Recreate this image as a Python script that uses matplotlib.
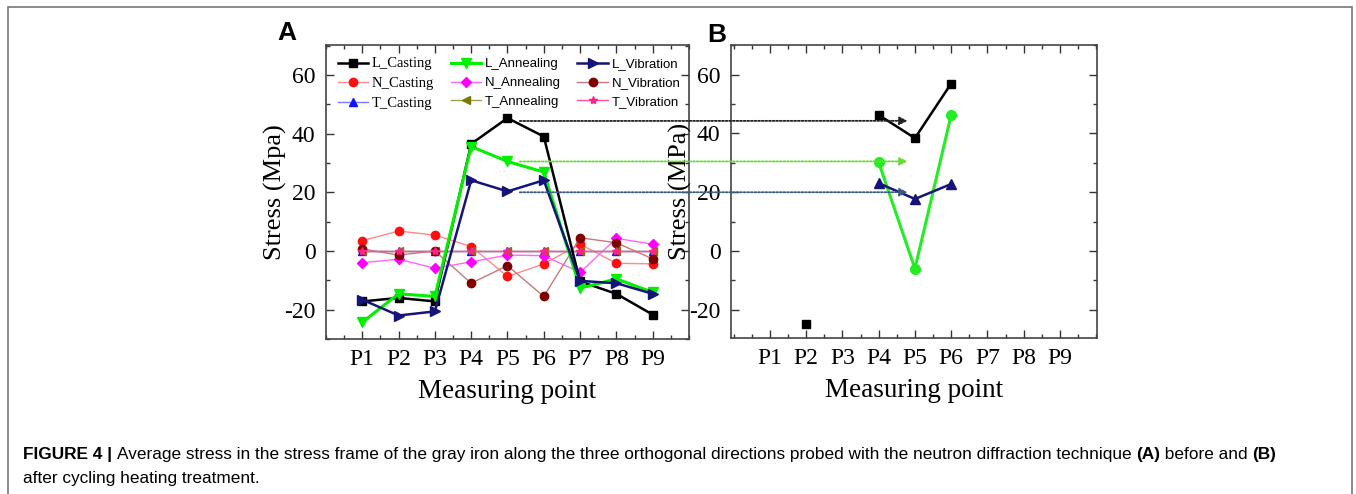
import numpy as np
import matplotlib
matplotlib.use("Agg")
import matplotlib.pyplot as plt
from matplotlib.patches import Rectangle, ConnectionPatch
from matplotlib.ticker import MultipleLocator

plt.rcParams["axes.unicode_minus"] = False

points = ["P1", "P2", "P3", "P4", "P5", "P6", "P7", "P8", "P9"]
x = np.arange(1, 10)

# panel A: before treatment
l_casting = [-17.2, -16.0, -17.2, 36.5, 45.3, 39.0, -10.4, -14.6, -21.7]
l_annealing = [-24.3, -14.6, -15.5, 35.6, 30.5, 26.9, -12.7, -9.5, -14.1]
l_vibration = [-16.6, -22.0, -20.6, 24.1, 20.3, 24.1, -10.2, -11.0, -14.6]
n_casting = [3.5, 6.8, 5.4, 1.5, -8.7, -4.4, 2.3, -4.2, -4.4]
n_annealing = [-4.0, -2.8, -5.9, -3.7, -1.4, -1.6, -7.3, 4.3, 2.3]
n_vibration = [0.7, -1.4, 0.0, -11.0, -5.0, -15.5, 4.5, 2.8, -2.7]
t_casting = [0, 0, 0, 0, 0, 0, 0, 0, 0]
t_annealing = [0, 0, 0, 0, 0, 0, 0, 0, 0]
t_vibration = [0, 0, 0, 0, 0, 0, 0, 0, 0]

# panel B: after cycling heating treatment
b_black = [np.nan, -24.9, np.nan, 46.3, 38.4, 57.0, np.nan, np.nan, np.nan]
b_green = [np.nan, np.nan, np.nan, 30.2, -6.0, 46.3, np.nan, np.nan, np.nan]
b_navy = [np.nan, np.nan, np.nan, 23.1, 17.7, 22.8, np.nan, np.nan, np.nan]

# dotted arrow levels (A at ~P5.3 -> B at ~P4.8)
arrow_levels = [44.3, 30.5, 20.0]
arrow_colors = ["#222222", "#66dd33", "#3a5a80"]

serif = "Liberation Serif"
sans = "Liberation Sans"

fig = plt.figure(figsize=(13.56, 4.94), dpi=100)
fig.patches.append(Rectangle((8 / 1356, -0.01), 1344 / 1356, (494 - 7) / 494 + 0.01,
                             transform=fig.transFigure, fill=False,
                             edgecolor="#777777", lw=1.2))

axA = fig.add_axes([0.2404, 0.3138, 0.2677, 0.5951])
axB = fig.add_axes([0.5391, 0.3158, 0.2699, 0.5931])

black, green, navy = "#000000", "#00f000", "#14147a"

axA.plot(x, l_casting, color=black, lw=1.8, marker="s", ms=5.5, label="L_Casting", zorder=5)
axA.plot(x, n_casting, color="#ff8a8a", lw=1, marker="o", ms=6, mfc="#ff1010",
         mec="#ff1010", label="N_Casting", zorder=3)
axA.plot(x, t_casting, color="#7a7aff", lw=1, marker="^", ms=6, mfc="#1010ff",
         mec="#1010ff", label="T_Casting", zorder=3)
axA.plot(x, l_annealing, color=green, lw=2.2, marker="v", ms=7, label="L_Annealing", zorder=6)
axA.plot(x, n_annealing, color="#ff66ff", lw=1, marker="D", ms=5, mfc="#ff00ff",
         mec="#ff00ff", label="N_Annealing", zorder=3)
axA.plot(x, t_annealing, color="#a0a050", lw=1, marker="<", ms=6, mfc="#7a7a00",
         mec="#7a7a00", label="T_Annealing", zorder=3)
axA.plot(x, l_vibration, color=navy, lw=1.8, marker=">", ms=7, label="L_Vibration", zorder=7)
axA.plot(x, n_vibration, color="#c47a7a", lw=1, marker="o", ms=6, mfc="#800000",
         mec="#800000", label="N_Vibration", zorder=3)
axA.plot(x, t_vibration, color="#ff4fa0", lw=1, marker="*", ms=6, mfc="#ff2288",
         mec="#ff2288", label="T_Vibration", zorder=4)

axB.plot(x, b_black, color=black, lw=1.8, marker="s", ms=6, zorder=5)
axB.plot(x, b_green, color="#22ee22", lw=2.2, marker="o", ms=7, zorder=4)
axB.plot(x, b_navy, color=navy, lw=1.8, marker="^", ms=7, zorder=6)

for ax, ylim, xlim, ylab in [(axA, (-30, 70.2), (0, 10), "Stress (Mpa)"),
                             (axB, (-29.6, 70.1), (-0.07, 10.02), "Stress (MPa)")]:
    ax.set_xlim(*xlim)
    ax.set_ylim(*ylim)
    ax.set_xticks(x)
    ax.set_xticklabels(points)
    ax.xaxis.set_minor_locator(MultipleLocator(0.5))
    ax.yaxis.set_major_locator(MultipleLocator(20))
    ax.yaxis.set_minor_locator(MultipleLocator(10))
    ax.tick_params(which="both", direction="in", top=True, right=True,
                   color="#333333", width=1)
    ax.tick_params(which="major", length=6, labelsize=17, pad=7.5)
    ax.tick_params(which="minor", length=3)
    for lab in ax.get_xticklabels() + ax.get_yticklabels():
        lab.set_fontfamily(serif)
    for sp in ax.spines.values():
        sp.set_color("#444444")
        sp.set_linewidth(1.2)
    ax.set_xlabel("Measuring point", fontfamily=serif, fontsize=19.5, labelpad=6)
    ax.set_ylabel(ylab, fontfamily=serif, fontsize=19, labelpad=-2)

leg = axA.legend(ncol=3, loc="upper left", bbox_to_anchor=(0.003, 0.994), frameon=False,
                 prop={"family": sans, "size": 9.5}, handlelength=2.3, numpoints=1,
                 columnspacing=1.25, handletextpad=0.3, labelspacing=0.5,
                 borderaxespad=0.4)
for t in leg.get_texts()[:3]:
    t.set_fontfamily(serif)
    t.set_fontsize(10.5)

for lvl, col in zip(arrow_levels, arrow_colors):
    con = ConnectionPatch(xyA=(5.34, lvl), coordsA=axA.transData,
                          xyB=(4.8, lvl), coordsB=axB.transData,
                          arrowstyle="-|>,head_length=0.4,head_width=0.2",
                          linestyle=(0, (1, 1)), color=col, lw=1.3,
                          mutation_scale=12, zorder=10)
    fig.add_artist(con)

fig.text(287 / 1356, 1 - 33 / 494, "A", fontfamily=sans, fontweight="bold",
         fontsize=19, ha="center", va="center")
fig.text(717 / 1356, 1 - 35 / 494, "B", fontfamily=sans, fontweight="bold",
         fontsize=19, ha="center", va="center")

# caption with mixed bold / regular parts
pieces = [("FIGURE 4 | ", "bold"),
          ("Average stress in the stress frame of the gray iron along the three orthogonal "
           "directions probed with the neutron diffraction technique ", "normal"),
          ("(A)", "bold"), (" before and ", "normal"), ("(B)", "bold")]
renderer = fig.canvas.get_renderer()
xpos = 23
ybase = 494 - 459
for s, w in pieces:
    t = fig.text(xpos / 1356, ybase / 494, s, fontfamily=sans, fontweight=w,
                 fontsize=12.4, ha="left", va="baseline")
    xpos += t.get_window_extent(renderer).width
fig.text(23 / 1356, (494 - 483) / 494, "after cycling heating treatment.",
         fontfamily=sans, fontsize=12.4, ha="left", va="baseline")

fig.savefig("out.png", dpi=100)
